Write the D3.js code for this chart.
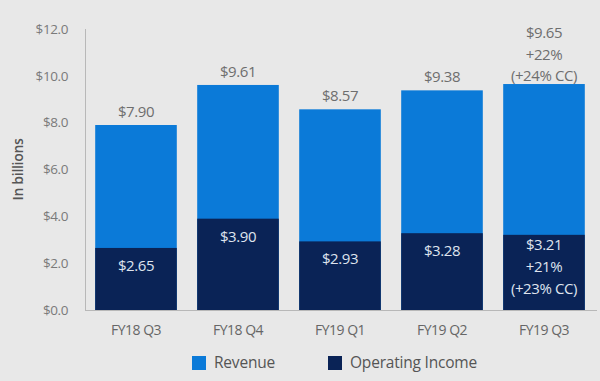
<!DOCTYPE html>
<html><head><meta charset="utf-8">
<script src="https://cdn.jsdelivr.net/npm/d3@7"></script>
<style>
html,body{margin:0;padding:0;background:#e8e8e8;}
svg{display:block;font-family:"Open Sans","Noto Sans",sans-serif;}
</style></head>
<body><svg id="c" width="600" height="381"></svg>
<script>
const categories = ["FY18 Q3","FY18 Q4","FY19 Q1","FY19 Q2","FY19 Q3"];
const revenue = [7.90, 9.61, 8.57, 9.38, 9.65];
const operatingIncome = [2.65, 3.90, 2.93, 3.28, 3.21];
const revenueLabels = [["$7.90"],["$9.61"],["$8.57"],["$9.38"],["$9.65","+22%","(+24% CC)"]];
const incomeLabels = [["$2.65"],["$3.90"],["$2.93"],["$3.28"],["$3.21","+21%","(+23% CC)"]];
const yTicks = [0,2,4,6,8,10,12];
const seriesNames = ["Revenue","Operating Income"];
const colors = ["#0b7ad8","#0a2356"];

(function(){
const svg = d3.select("#c");
const mLeft = 85, mRight = 595, mTop = 29, mBottom = 310;
const x = d3.scaleBand().domain(categories).range([mLeft,mRight]).paddingInner(0.2).paddingOuter(0.1);
const y = d3.scaleLinear().domain([0,12]).range([mBottom,mTop]);

svg.append("line").attr("x1",mLeft+0.5).attr("x2",mLeft+0.5).attr("y1",y(12)).attr("y2",mBottom).attr("stroke","#b8b8b8").attr("stroke-width",1);
svg.append("line").attr("x1",mLeft).attr("x2",597).attr("y1",mBottom+0.5).attr("y2",mBottom+0.5).attr("stroke","#b8b8b8").attr("stroke-width",1);

svg.append("g").selectAll("text").data(yTicks).join("text")
  .attr("x",68).attr("y",d=>y(d)).attr("dy","0.35em").attr("text-anchor","end")
  .attr("fill","#7a7a7a").attr("font-size",13.5).attr("letter-spacing","-0.4")
  .text(d=>"$"+d.toFixed(1));

svg.append("text").attr("transform",`translate(18,${(mTop+mBottom)/2}) rotate(-90)`)
  .attr("text-anchor","middle").attr("dy","0.35em").attr("fill","#555").attr("font-size",14).attr("font-weight",600)
  .attr("letter-spacing","-0.3").text("In billions");

svg.append("g").selectAll("rect").data(revenue).join("rect")
  .attr("x",(d,i)=>x(categories[i])).attr("width",x.bandwidth())
  .attr("y",d=>y(d)).attr("height",d=>mBottom-y(d)).attr("fill",colors[0]);
svg.append("g").selectAll("rect").data(operatingIncome).join("rect")
  .attr("x",(d,i)=>x(categories[i])).attr("width",x.bandwidth())
  .attr("y",d=>y(d)).attr("height",d=>mBottom-y(d)).attr("fill",colors[1]);

revenueLabels.forEach((lines,i)=>{
  const cx = x(categories[i]) + x.bandwidth()/2;
  const n = lines.length;
  const gap = n > 1 ? 3 : 8;
  lines.forEach((t,j)=>{
    svg.append("text").attr("x",cx).attr("y",y(revenue[i]) - gap - (n-1-j)*21.5)
      .attr("text-anchor","middle").attr("fill","#6e6e6e").attr("font-size",15).attr("letter-spacing","-0.4").text(t);
  });
});
incomeLabels.forEach((lines,i)=>{
  const cx = x(categories[i]) + x.bandwidth()/2;
  const n = lines.length;
  const off = n > 1 ? 15 : 23;
  lines.forEach((t,j)=>{
    svg.append("text").attr("x",cx).attr("y",y(operatingIncome[i]) + off + j*22)
      .attr("text-anchor","middle").attr("fill","#dfe4ee").attr("font-size",15).attr("letter-spacing","-0.4").text(t);
  });
});

svg.append("g").selectAll("text").data(categories).join("text")
  .attr("x",d=>x(d)+x.bandwidth()/2).attr("y",330).attr("dy","0.35em")
  .attr("text-anchor","middle").attr("fill","#666").attr("font-size",14).attr("letter-spacing","-0.5").text(d=>d);

const legX = [192, 328];
seriesNames.forEach((s,i)=>{
  svg.append("rect").attr("x",legX[i]).attr("y",356).attr("width",14).attr("height",14).attr("fill",colors[i]);
  svg.append("text").attr("x",legX[i]+22).attr("y",363).attr("dy","0.35em")
    .attr("fill","#555").attr("font-size",15.5).attr("letter-spacing","-0.2").text(s);
});
})();
</script></body></html>
